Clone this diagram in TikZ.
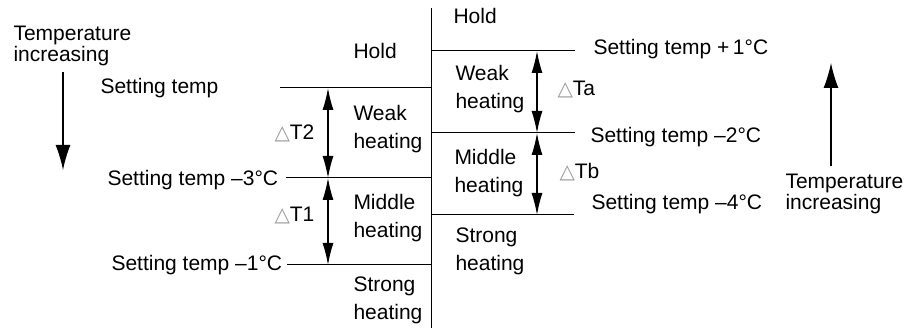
\documentclass[tikz,border=0pt]{standalone}
\usepackage{fontspec}
\setmainfont{Liberation Sans}
\newfontfamily\tridelta{DejaVu Sans}
\usetikzlibrary{arrows.meta}
\definecolor{trigray}{HTML}{9A9A9A}
\tikzset{
  every picture/.style={line join=round, line width=0.5pt},
  lbl/.style={font=\fontsize{10.5}{14}\selectfont, inner sep=0pt},
  zone/.style={lbl, align=left, anchor=west},
  lev/.style={lbl, anchor=west},
  tin/.style={lbl, align=left, anchor=west, font=\fontsize{10.5}{10.8}\selectfont},
  dT/.style={{Latex[length=11pt,width=5.5pt]}-{Latex[length=11pt,width=5.5pt]}, line width=0.6pt},
  tarr/.style={-{Latex[length=12.5pt,width=7.5pt]}, line width=0.6pt},
}
\newcommand{\dtri}{{\tridelta\fontsize{10}{10}\selectfont\color{trigray}\char"25B3}}

\begin{document}
\begin{tikzpicture}[x=0.5pt,y=-0.5pt]
\useasboundingbox (0,0) rectangle (922,330);
% axis between the two tables
\coordinate (ax) at (431,8);
\coordinate (axB) at (431,328);
\draw (ax) -- (axB);
\coordinate (dl) at (328,0);
\coordinate (dr) at (537,0);

% left table
\foreach \n/\xs/\y in {0/280/88,1/286/178,2/287/265}{
  \coordinate (L\n) at (\xs,\y);
  \draw (L\n) -- (L\n -| ax);
}
\draw[dT] (L0 -| dl) -- (L1 -| dl);
\draw[dT] (L1 -| dl) -- (L2 -| dl);
\node[zone] (holdL) at (353,51) {Hold};
\node[zone] (weakL) at (353,129) {Weak\\heating};
\node[zone] (midL) at (353,218) {Middle\\heating};
\node[zone] (strL) at (353,300) {Strong\\heating};
\node[lev] (t2) at (274,133) {\dtri T2};
\node[lev] (t1) at (274,216) {\dtri T1};
\node[lev] (sL0) at (100,88) {Setting temp};
\node[lev] (sL1) at (107,180) {Setting temp –3°C};
\node[lev] (sL2) at (111,265) {Setting temp –1°C};

% right table
\foreach \n/\xe/\y in {0/575/51,1/575/133,2/574/215}{
  \coordinate (R\n) at (\xe,\y);
  \draw (R\n -| ax) -- (R\n);
}
\draw[dT] (R0 -| dr) -- (R1 -| dr);
\draw[dT] (R1 -| dr) -- (R2 -| dr);
\node[zone] (holdR) at (453,16) {Hold};
\node[zone] (weakR) at (455,89) {Weak\\heating};
\node[zone] (midR) at (454,173) {Middle\\heating};
\node[zone] (strR) at (455,251) {Strong\\heating};
\node[lev] (ta) at (557,90) {\dtri Ta};
\node[lev] (tb) at (559,172) {\dtri Tb};
\node[lev] (sR0) at (593,49) {Setting temp +\,1°C};
\node[lev] (sR1) at (590,137) {Setting temp –2°C};
\node[lev] (sR2) at (591,204) {Setting temp –4°C};

% direction of temperature
\node[tin] (tinL) at (13,46) {Temperature\\increasing};
\coordinate (dnA) at (63,72);
\coordinate (dnB) at (63,170);
\draw[tarr] (dnA) -- (dnB);
\node[tin] (tinR) at (785,194) {Temperature\\increasing};
\coordinate (upA) at (831,166);
\coordinate (upB) at (831,63);
\draw[tarr] (upA) -- (upB);
\end{tikzpicture}
\end{document}
